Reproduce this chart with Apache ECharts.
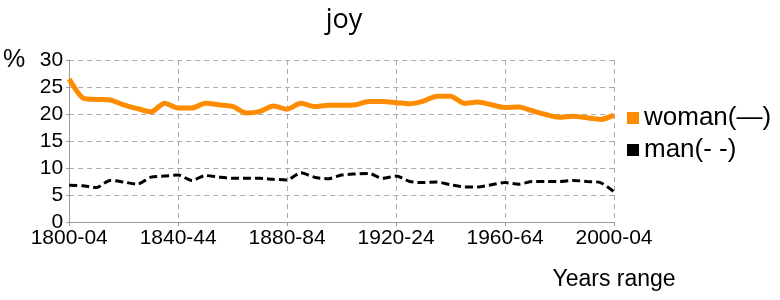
<!DOCTYPE html>
<html>
<head>
<meta charset="utf-8">
<script src="https://cdn.jsdelivr.net/npm/echarts@6/dist/echarts.min.js"></script>
<style>html,body{margin:0;padding:0;background:#fff}#c{width:780px;height:300px}</style>
</head>
<body>
<div id="c"></div>
<script>
var categories = [];
for (var y = 1800; y <= 2000; y += 5) {
  categories.push(y + '-' + String((y + 4) % 100).padStart(2, '0'));
}
var woman = [26.5,23.0,22.7,22.6,21.7,21.0,20.4,22.0,21.1,21.1,22.0,21.7,21.4,20.2,20.5,21.5,20.9,22.0,21.4,21.6,21.6,21.7,22.3,22.3,22.1,21.9,22.4,23.3,23.3,22.0,22.2,21.7,21.2,21.3,20.6,19.9,19.4,19.6,19.3,19.0,19.8];
var man = [6.8,6.7,6.4,7.7,7.4,7.0,8.3,8.5,8.7,7.7,8.6,8.3,8.1,8.1,8.1,7.9,7.8,9.1,8.3,8.0,8.7,8.9,9.0,8.1,8.5,7.5,7.3,7.4,6.9,6.5,6.5,6.9,7.3,7.0,7.5,7.5,7.5,7.7,7.5,7.3,5.6];
var seriesNames = ['woman(—)', 'man(- -)'];
var titleText = 'joy';
var xName = 'Years range';
var yName = '%';

var chart = echarts.init(document.getElementById('c'));
var font = 'Liberation Sans, Arial, sans-serif';
chart.setOption({
  animation: false,
  title: {
    text: titleText, left: 339, textAlign: 'center', top: 2,
    textStyle: { fontFamily: 'Open Sans, sans-serif', fontSize: 27, fontWeight: 'normal', color: '#000' }
  },
  legend: {
    orient: 'vertical', left: 622, top: 100, icon: 'rect', itemWidth: 12, itemHeight: 12, itemGap: 6,
    textStyle: { fontFamily: font, fontSize: 26, lineHeight: 26, color: '#000' },
    data: seriesNames
  },
  grid: { left: 69, right: 166, top: 60, bottom: 78 },
  xAxis: {
    type: 'category', data: categories, boundaryGap: false,
    name: xName, nameLocation: 'end', nameGap: 0,
    nameTextStyle: { fontFamily: font, fontSize: 23, color: '#000', align: 'center', verticalAlign: 'top', padding: [46, 0, 0, 0] },
    axisLine: { lineStyle: { color: '#999', width: 1 } },
    axisTick: { interval: 7, length: 4, lineStyle: { color: '#999' } },
    axisLabel: { interval: 7, fontFamily: font, fontSize: 21, color: '#000', margin: 6 },
    splitLine: { show: true, interval: 7, lineStyle: { color: '#aaa', type: [5, 4], width: 1 } }
  },
  yAxis: {
    type: 'value', min: 0, max: 30, interval: 5,
    name: yName, nameLocation: 'end', nameGap: 0,
    nameTextStyle: { fontFamily: font, fontSize: 25, color: '#000', align: 'right', verticalAlign: 'middle', padding: [0, 44, 0, 0] },
    axisLine: { show: true, lineStyle: { color: '#999', width: 1 } },
    axisTick: { show: true, length: 3, lineStyle: { color: '#999' } },
    axisLabel: { fontFamily: font, fontSize: 21, color: '#000', margin: 6 },
    splitLine: { show: true, lineStyle: { color: '#aaa', type: [5, 4], width: 1 } }
  },
  series: [
    { name: seriesNames[0], type: 'line', data: woman, smooth: 0.25, showSymbol: false,
      itemStyle: { color: '#FF8C00' }, lineStyle: { color: '#FF8C00', width: 5 } },
    { name: seriesNames[1], type: 'line', data: man, smooth: 0.25, showSymbol: false,
      itemStyle: { color: '#000' }, lineStyle: { color: '#000', width: 3, type: [8, 4] } }
  ]
});
</script>
</body>
</html>
